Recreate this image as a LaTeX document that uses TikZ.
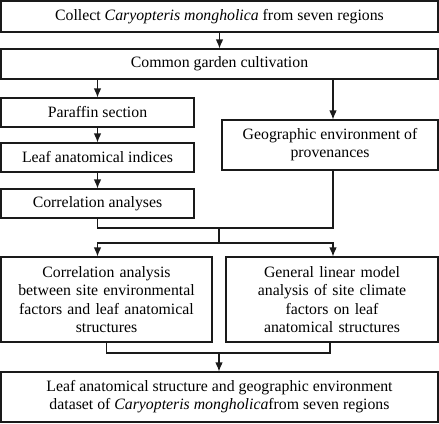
\documentclass[tikz,border=0pt]{standalone}
\usepackage{fontspec}
\setmainfont{Liberation Serif}
\usetikzlibrary{arrows.meta,positioning,calc}
\definecolor{cLine}{HTML}{1A1A1A}
\tikzset{
  blk/.style  = {rectangle, draw=cLine, line width=1.1pt, align=center,
                 font=\fontsize{15.8}{18.2}\selectfont, inner sep=2pt},
  full/.style = {blk, minimum width=437pt},
  half/.style = {blk, minimum width=193pt, minimum height=29pt},
  ln/.style   = {draw=cLine, line width=1.1pt},
  fl/.style   = {ln, -{Latex[length=9pt,width=7.5pt]}},
}
\begin{document}
\begin{tikzpicture}[x=1pt,y=-1pt]
  \useasboundingbox (0,0) rectangle (439,423);
  % ---- top rows ----
  \node[full, minimum height=31pt] (collect) at (219.5,16.5)
    {Collect \textit{Caryopteris mongholica} from seven regions};
  \node[full, minimum height=30pt] (garden) at (219.5,64)
    {Common garden cultivation};

  % ---- left column ----
  \node[half] (para) at (97.5,112.5) {Paraffin section};
  \node[half] (leaf) at (97.5,157.5) {Leaf anatomical indices};
  \node[half] (corr) at (97.5,203.5) {Correlation analyses};

  % ---- right column ----
  \node[blk, minimum width=216pt, minimum height=50pt] (geo) at (330,145)
    {Geographic environment of\\provenances};

  % ---- analyses ----
  \node[blk, minimum width=211pt, minimum height=85pt, text width=205pt] (ca) at (106.5,299.5)
    {Correlation analysis\\between site environmental\\factors and leaf anatomical\\structures};
  \node[blk, minimum width=212pt, minimum height=85pt, text width=205pt] (glm) at (332,299.5)
    {General linear model\\analysis of site climate\\factors on leaf\\anatomical structures};

  % ---- result ----
  \node[full, minimum height=50pt] (data) at (219.5,397)
    {Leaf anatomical structure and geographic environment\\dataset of \textit{Caryopteris mongholica}from seven regions};

  \coordinate (j1) at (219,228);
  \coordinate (j2) at (219,243);
  \coordinate (j3) at (219,353);

  \draw[fl] (collect) -- (garden);
  \draw[fl] (garden.south -| para) -- (para);
  \draw[fl] (para) -- (leaf);
  \draw[fl] (leaf) -- (corr);
  \draw[fl] ([xshift=3pt]geo.north |- garden.south) -- ([xshift=3pt]geo.north);

  \draw[ln] (corr.south) |- (j1) -| ([xshift=3pt]geo.south);
  \draw[ln] (j1) -- (j2);
  \draw[fl] (j2) -| (ca.north -| corr.south);
  \draw[fl] (j2) -| ([xshift=1pt]glm.north);

  \draw[ln] (ca.south) |- (j3) -| ([xshift=-2pt]glm.south);
  \draw[fl] (j3) -- (data.north -| j3);
\end{tikzpicture}
\end{document}
